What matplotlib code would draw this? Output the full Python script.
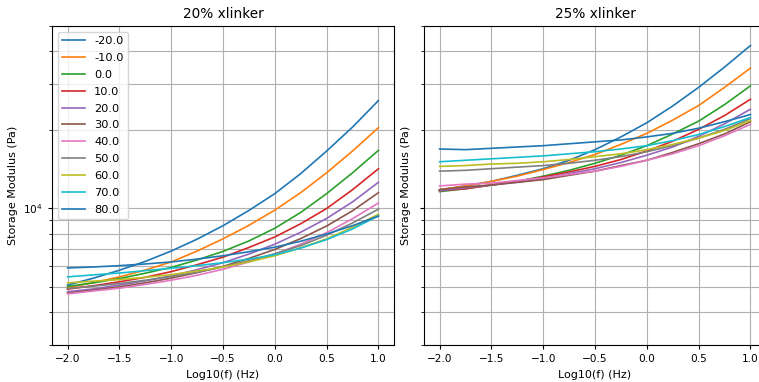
import numpy as np
import matplotlib.pyplot as plt

# log10 frequency (Hz) sample points
log_freq = [-2.0, -1.75, -1.5, -1.25, -1.0, -0.75, -0.5, -0.25, 0.0, 0.25, 0.5, 0.75, 1.0]
temps = [-20.0, -10.0, 0.0, 10.0, 20.0, 30.0, 40.0, 50.0, 60.0, 70.0, 80.0]

# storage modulus (Pa), 20% xlinker
x20_m20 = [5090, 5410, 5800, 6270, 6870, 7630, 8590, 9830, 11400, 13600, 16600, 20500, 25900]
x20_m10 = [4970, 5200, 5470, 5810, 6240, 6870, 7650, 8620, 9860, 11500, 13700, 16600, 20400]
x20_0 = [5030, 5190, 5390, 5650, 5950, 6350, 6850, 7510, 8400, 9660, 11400, 13700, 16700]
x20_10 = [4910, 5060, 5240, 5450, 5730, 6090, 6510, 7090, 7780, 8740, 10000, 11800, 14200]
x20_20 = [4800, 4920, 5090, 5280, 5520, 5830, 6200, 6690, 7300, 8110, 9160, 10600, 12600]
x20_30 = [4740, 4870, 5010, 5190, 5410, 5680, 6000, 6440, 6970, 7670, 8570, 9800, 11500]
x20_40 = [4710, 4830, 4950, 5120, 5310, 5550, 5850, 6240, 6690, 7300, 8080, 9140, 10500]
x20_50 = [4940, 5040, 5160, 5310, 5490, 5700, 5970, 6310, 6710, 7210, 7900, 8800, 9940]
x20_60 = [5190, 5270, 5340, 5450, 5580, 5760, 5970, 6250, 6590, 7070, 7650, 8470, 9510]
x20_70 = [5470, 5570, 5660, 5780, 5900, 6040, 6200, 6400, 6650, 7050, 7600, 8350, 9380]
x20_80 = [5920, 5970, 6040, 6130, 6240, 6400, 6590, 6830, 7110, 7490, 7990, 8590, 9350]

# storage modulus (Pa), 25% xlinker
x25_m20 = [11800, 12200, 12700, 13400, 14200, 15300, 16800, 18800, 21300, 24700, 29100, 34800, 42100]
x25_m10 = [11800, 12200, 12700, 13300, 14100, 15000, 16100, 17600, 19400, 21800, 24800, 29100, 34500]
x25_0 = [11600, 11900, 12300, 12700, 13300, 14000, 14900, 16000, 17400, 19300, 21600, 25000, 29500]
x25_10 = [11700, 11900, 12300, 12700, 13200, 13800, 14500, 15400, 16600, 18100, 20100, 22700, 26200]
x25_20 = [11700, 12000, 12300, 12600, 13000, 13600, 14200, 15000, 16000, 17200, 18900, 21100, 24000]
x25_30 = [11800, 12100, 12300, 12600, 12900, 13400, 13900, 14600, 15300, 16400, 17700, 19300, 21500]
x25_40 = [12200, 12400, 12500, 12800, 13100, 13500, 13900, 14500, 15300, 16200, 17400, 19000, 21000]
x25_50 = [13900, 14000, 14200, 14400, 14600, 14900, 15300, 15800, 16500, 17400, 18600, 20100, 22100]
x25_60 = [14500, 14600, 14800, 14900, 15100, 15400, 15800, 16200, 16800, 17600, 18600, 19900, 21700]
x25_70 = [15100, 15300, 15500, 15700, 15900, 16200, 16500, 16900, 17400, 18200, 19200, 20600, 22300]
x25_80 = [16900, 16800, 17000, 17200, 17400, 17700, 18000, 18300, 18800, 19400, 20300, 21500, 22900]

series_20 = [x20_m20, x20_m10, x20_0, x20_10, x20_20, x20_30, x20_40, x20_50, x20_60, x20_70, x20_80]
series_25 = [x25_m20, x25_m10, x25_0, x25_10, x25_20, x25_30, x25_40, x25_50, x25_60, x25_70, x25_80]

W, H = 759, 382
fig = plt.figure(figsize=(W / 100, H / 100), dpi=100)
ax1 = fig.add_axes([52 / W, 37 / H, 342 / W, 319 / H])
ax2 = fig.add_axes([424 / W, 37 / H, 342 / W, 319 / H])
ax2.sharey(ax1)

panels = [(ax1, series_20, '20% xlinker'), (ax2, series_25, '25% xlinker')]
for ax, series, title in panels:
    for t, g in zip(temps, series):
        ax.plot(log_freq, g, lw=1.2, label=f'{t:.1f}')
    ax.set_yscale('log')
    ax.set_ylim(3.0e3, 5.0e4)
    ax.grid(True, which='both', color='#b0b0b0', lw=0.8)
    ax.set_title(title, fontsize=9.8)
    ax.set_xlabel('Log10(f) (Hz)', fontsize=8)
    ax.set_ylabel('Storage Modulus (Pa)', fontsize=8)
    ax.tick_params(labelsize=7.6, length=3)
    ax.tick_params(which='minor', length=2)

ax2.tick_params(labelleft=False)
ax1.legend(loc='upper left', fontsize=8.2, labelspacing=0.6)

fig.savefig('out.png', dpi=100)
